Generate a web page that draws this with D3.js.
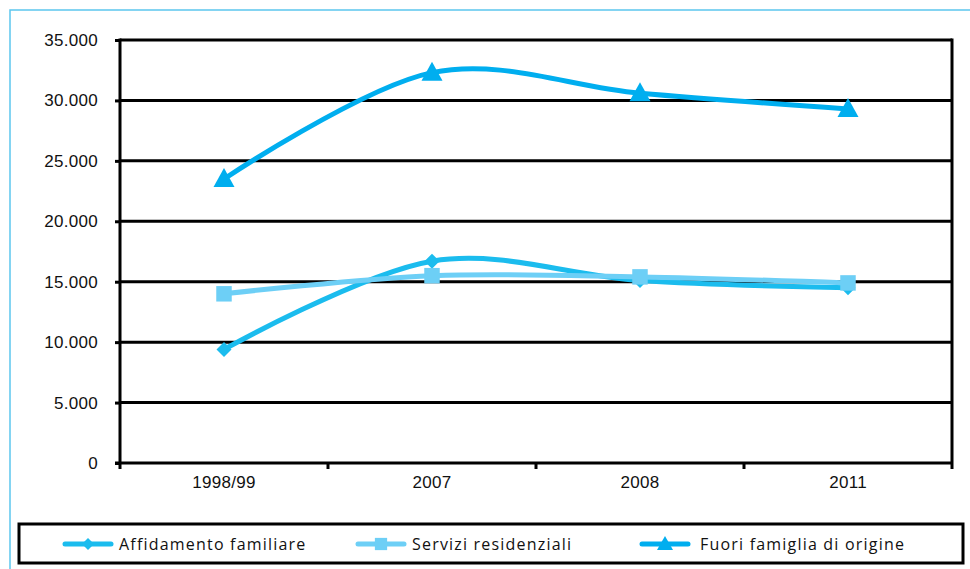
<!DOCTYPE html>
<html lang="it">
<head>
<meta charset="UTF-8">
<title>Minori fuori famiglia</title>
<script src="https://d3js.org/d3.v7.min.js"></script>
<style>
    body { margin: 0; background: #fff; }
    svg { display: block; font-family: 'Open Sans', sans-serif; }
    .tick-label { font-size: 17px; fill: #111; letter-spacing: 0.3px; }
    .legend-label { font-size: 16px; fill: #111; letter-spacing: 1.2px; }
</style>
</head>
<body>
<svg id="chart" width="970" height="569"></svg>
<script>
// --- Data ---
const categories = ["1998/99", "2007", "2008", "2011"];
const affidamento = [9400, 16700, 15100, 14500];
const servizi = [14000, 15500, 15400, 14900];
const fuori = [23500, 32300, 30600, 29300];
const yTicks = [0, 5000, 10000, 15000, 20000, 25000, 30000, 35000];

const series = [
    { name: "Affidamento familiare", values: affidamento, color: "#1bbcee", marker: "diamond" },
    { name: "Servizi residenziali", values: servizi, color: "#6dcff6", marker: "square" },
    { name: "Fuori famiglia di origine", values: fuori, color: "#00aeef", marker: "triangle" }
];

const svg = d3.select("#chart");
const plot = { left: 120, right: 952, top: 40, bottom: 463 };

// outer frame (cut off at right/bottom like the source)
svg.append("rect")
    .attr("x", 10).attr("y", 10)
    .attr("width", 980).attr("height", 580)
    .attr("fill", "none")
    .attr("stroke", "#5cc6ee")
    .attr("stroke-width", 1.5);

const x = d3.scaleBand().domain(categories).range([plot.left, plot.right]);
const y = d3.scaleLinear().domain([0, 35000]).range([plot.bottom, plot.top]);
const cx = d => x(d) + x.bandwidth() / 2;

// gridlines
svg.append("g")
    .selectAll("line")
    .data(yTicks.slice(1))
    .join("line")
    .attr("x1", plot.left).attr("x2", plot.right)
    .attr("y1", d => y(d)).attr("y2", d => y(d))
    .attr("stroke", "#000").attr("stroke-width", 3);

// right border of plot area
svg.append("line")
    .attr("x1", plot.right).attr("x2", plot.right)
    .attr("y1", plot.top - 1.5).attr("y2", plot.bottom + 6)
    .attr("stroke", "#000").attr("stroke-width", 3);

// y axis
const yAxis = svg.append("g")
    .attr("transform", `translate(${plot.left},0)`)
    .call(d3.axisLeft(y).tickValues(yTicks).tickSize(5).tickPadding(17)
        .tickFormat(d => d === 0 ? "0" : d3.format(",")(d).replace(/,/g, ".")));
yAxis.select(".domain").attr("stroke", "#000").attr("stroke-width", 3)
    .attr("d", `M0,${plot.top - 1.5}V${plot.bottom + 6}`);
yAxis.selectAll(".tick line").attr("stroke", "#000").attr("stroke-width", 3);
yAxis.selectAll(".tick text").attr("class", "tick-label").attr("font-family", null).attr("font-size", null);

// x axis
const xAxis = svg.append("g")
    .attr("transform", `translate(0,${plot.bottom})`)
    .call(d3.axisBottom(x).tickSize(0).tickPadding(13));
xAxis.select(".domain").attr("stroke", "#000").attr("stroke-width", 3)
    .attr("d", `M${plot.left - 5},0H${plot.right}`);
xAxis.selectAll(".tick text").attr("class", "tick-label").attr("font-family", null).attr("font-size", null);
svg.append("g")
    .selectAll("line")
    .data(categories.slice(1))
    .join("line")
    .attr("x1", d => x(d)).attr("x2", d => x(d))
    .attr("y1", plot.bottom).attr("y2", plot.bottom + 6)
    .attr("stroke", "#000").attr("stroke-width", 3);

// markers
function markerPath(type) {
    if (type === "diamond") return "M0,-7.5L7.5,0L0,7.5L-7.5,0Z";
    if (type === "square") return d3.symbol(d3.symbolSquare, 240)();
    return "M0,-11L10.5,8L-10.5,8Z";
}

const line = d3.line()
    .x((d, i) => cx(categories[i]))
    .y(d => y(d))
    .curve(d3.curveCardinal.tension(0));

series.forEach(s => {
    const g = svg.append("g");
    g.append("path")
        .attr("d", line(s.values))
        .attr("fill", "none")
        .attr("stroke", s.color)
        .attr("stroke-width", 5)
        .attr("stroke-linejoin", "round");
    g.selectAll("path.marker")
        .data(s.values)
        .join("path")
        .attr("class", "marker")
        .attr("d", markerPath(s.marker))
        .attr("transform", (d, i) => `translate(${cx(categories[i])},${y(d)})`)
        .attr("fill", s.color);
});

// legend
svg.append("rect")
    .attr("x", 19).attr("y", 524)
    .attr("width", 944).attr("height", 39)
    .attr("fill", "#fff")
    .attr("stroke", "#000").attr("stroke-width", 3);

const legendX = [65, 358, 642];
const legend = svg.append("g")
    .selectAll("g")
    .data(series)
    .join("g")
    .attr("transform", (d, i) => `translate(${legendX[i]},544)`);
legend.append("line")
    .attr("x1", 0).attr("x2", 46)
    .attr("stroke", d => d.color).attr("stroke-width", 5)
    .attr("stroke-linecap", "round");
legend.append("path")
    .attr("d", d => d.marker === "diamond" ? "M0,-6L6,0L0,6L-6,0Z"
        : d.marker === "square" ? d3.symbol(d3.symbolSquare, 150)() : "M0,-8L8,6L-8,6Z")
    .attr("transform", "translate(23,0)")
    .attr("fill", d => d.color);
legend.append("text")
    .attr("class", "legend-label")
    .attr("x", (d, i) => i === 2 ? 58 : 54)
    .attr("dy", "0.35em")
    .text(d => d.name);
</script>
</body>
</html>
